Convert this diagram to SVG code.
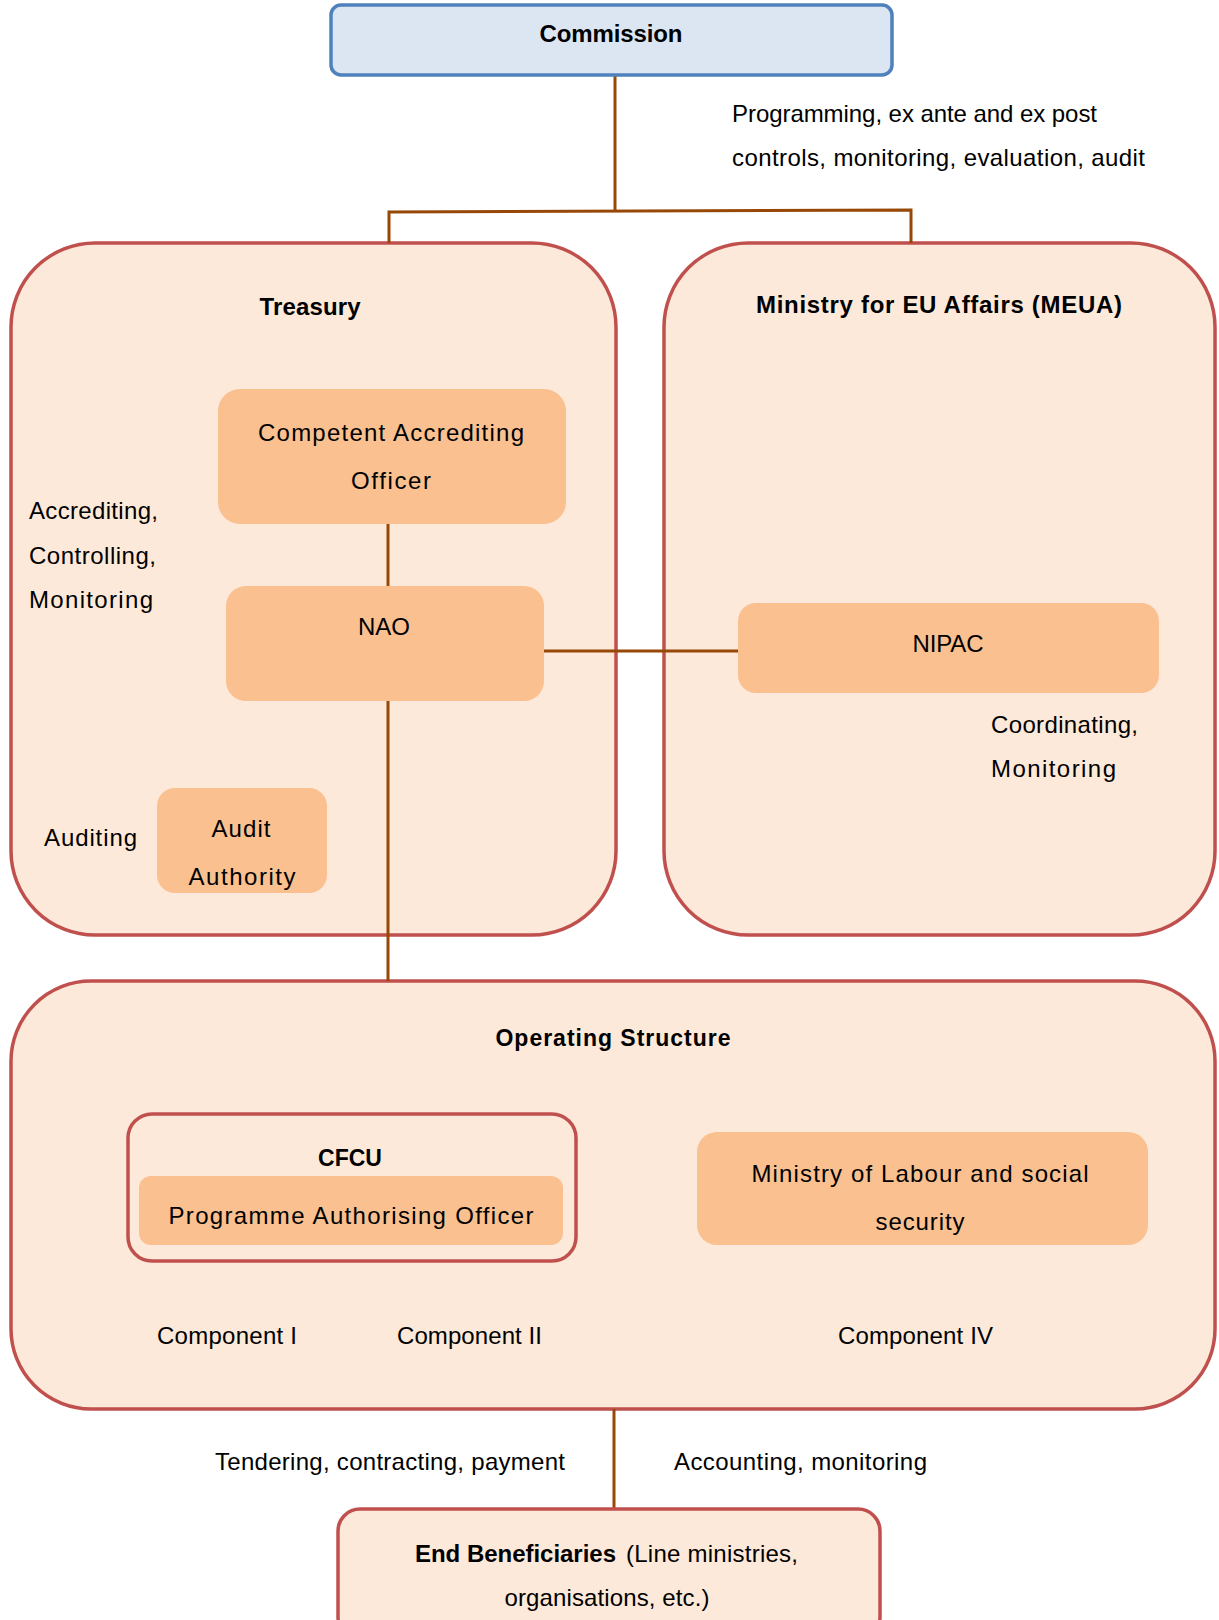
<svg xmlns="http://www.w3.org/2000/svg" width="1219" height="1620" viewBox="0 0 1219 1620">
<style>
text{font-family:"Liberation Sans",Arial,sans-serif;font-size:24px;fill:#000}
.b{font-weight:bold}
.m{text-anchor:middle}
.c{font-size:23px}
.cont{fill:#fde9d9;stroke:#c0504d;stroke-width:3.5}
.inner{fill:#fac090;stroke:none}
.conn{fill:none;stroke:#984806;stroke-width:3}
</style>
<rect width="1219" height="1620" fill="#ffffff"/>
<g id="treasury">
<rect class="cont" x="11" y="243" width="605" height="692" rx="84"/>
<text class="b m" x="310" y="315" textLength="101">Treasury</text>
</g>
<g id="meua">
<rect class="cont" x="664" y="243" width="551" height="692" rx="84"/>
<text class="b m" x="939" y="313" textLength="366">Ministry for EU Affairs (MEUA)</text>
</g>
<g id="operating-structure">
<rect class="cont" x="11" y="981" width="1204" height="428" rx="80"/>
<text class="b m c" x="613" y="1046" textLength="235">Operating Structure</text>
</g>
<g id="connectors">
<line class="conn" x1="615" y1="75" x2="615" y2="211"/>
<polyline class="conn" points="389,243 389,212 911,210 911,243"/>
<line class="conn" x1="388" y1="524" x2="388" y2="586"/>
<line class="conn" x1="544" y1="651" x2="738" y2="651"/>
<line class="conn" x1="388" y1="701" x2="388" y2="981"/>
<line class="conn" x1="614" y1="1409" x2="614" y2="1509"/>
</g>
<g id="commission">
<rect x="331" y="5" width="561" height="70" rx="10" fill="#dce6f2" stroke="#4f81bd" stroke-width="3.5"/>
<text class="b m" x="611" y="42" textLength="143">Commission</text>
</g>
<g id="commission-label">
<text x="732" y="122" textLength="365">Programming, ex ante and ex post</text>
<text x="732" y="166" textLength="413">controls, monitoring, evaluation, audit</text>
</g>
<g id="cao">
<rect class="inner" x="218" y="389" width="348" height="135" rx="22"/>
<text class="m" x="391" y="441" textLength="266">Competent Accrediting</text>
<text class="m" x="391" y="489" textLength="80">Officer</text>
</g>
<g id="treasury-label">
<text x="29" y="519" textLength="129">Accrediting,</text>
<text x="29" y="564" textLength="127">Controlling,</text>
<text x="29" y="608" textLength="124">Monitoring</text>
</g>
<g id="nao">
<rect class="inner" x="226" y="586" width="318" height="115" rx="20"/>
<text class="m" x="384" y="635" textLength="52">NAO</text>
</g>
<g id="nipac">
<rect class="inner" x="738" y="603" width="421" height="90" rx="18"/>
<text class="m" x="948" y="652" textLength="71">NIPAC</text>
</g>
<g id="nipac-label">
<text x="991" y="733" textLength="147">Coordinating,</text>
<text x="991" y="777" textLength="125">Monitoring</text>
</g>
<g id="audit-authority">
<rect class="inner" x="157" y="788" width="170" height="105" rx="18"/>
<text class="m" x="241" y="837" textLength="59">Audit</text>
<text class="m" x="242" y="885" textLength="107">Authority</text>
</g>
<g id="audit-label">
<text x="44" y="846" textLength="93">Auditing</text>
</g>
<g id="cfcu">
<rect x="128" y="1114" width="448" height="147" rx="24" fill="#fde9d9" stroke="#c0504d" stroke-width="3.5"/>
<text class="b m c" x="350" y="1166">CFCU</text>
<rect class="inner" x="139" y="1176" width="424" height="69" rx="12"/>
<text class="m" x="351" y="1224" textLength="365">Programme Authorising Officer</text>
</g>
<g id="ministry-labour">
<rect class="inner" x="697" y="1132" width="451" height="113" rx="20"/>
<text class="m" x="920" y="1182" textLength="337">Ministry of Labour and social</text>
<text class="m" x="920" y="1230" textLength="89">security</text>
</g>
<g id="components">
<text x="157" y="1344" textLength="140">Component I</text>
<text x="397" y="1344" textLength="145">Component II</text>
<text x="838" y="1344" textLength="155">Component IV</text>
</g>
<g id="os-labels">
<text x="215" y="1470" textLength="350">Tendering, contracting, payment</text>
<text x="674" y="1470" textLength="253">Accounting, monitoring</text>
</g>
<g id="end-beneficiaries">
<rect x="338" y="1509" width="542" height="130" rx="22" fill="#fde9d9" stroke="#c0504d" stroke-width="3.5"/>
<text x="415" y="1562"><tspan class="b" textLength="201">End Beneficiaries</tspan><tspan x="626" textLength="172">(Line ministries,</tspan></text>
<text class="m" x="607" y="1606" textLength="205">organisations, etc.)</text>
</g>
</svg>
